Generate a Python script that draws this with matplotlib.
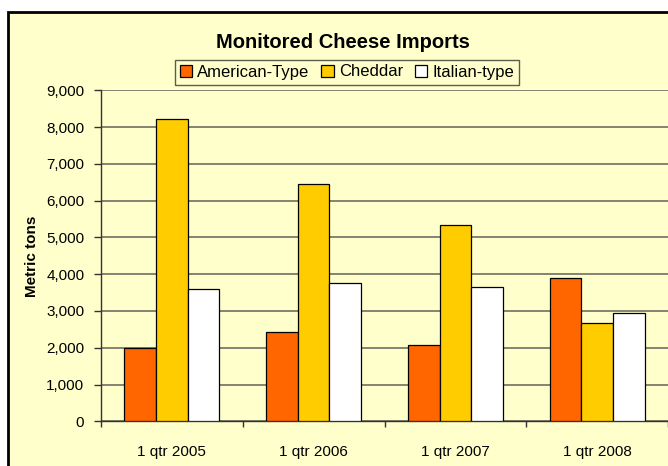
import matplotlib
matplotlib.use("Agg")
import matplotlib.pyplot as plt
import numpy as np
from matplotlib.patches import Rectangle
from matplotlib.ticker import FuncFormatter, FixedLocator

categories = ["1 qtr 2005", "1 qtr 2006", "1 qtr 2007", "1 qtr 2008"]
american = [1980, 2435, 2065, 3895]
cheddar = [8210, 6440, 5325, 2670]
italian = [3590, 3750, 3640, 2935]
series_names = ["American-Type", "Cheddar", "Italian-type"]
colors = ["#FF6600", "#FFCC00", "#FFFFFF"]

plt.rcParams['font.family'] = ['Liberation Sans', 'DejaVu Sans']

W, H = 668, 466
fig = plt.figure(figsize=(W / 100, H / 100), dpi=100)
fig.patch.set_facecolor("white")

bg = "#FFFFCC"
fig.patches.append(Rectangle((8 / W, -0.05), 1.2, 1 - 12 / H + 0.05,
                             transform=fig.transFigure, facecolor=bg,
                             edgecolor="black", linewidth=2, zorder=-10))

ax = fig.add_axes([101 / W, 1 - 421.3 / H, (668 - 101) / W, (421.3 - 90.3) / H])
ax.set_facecolor(bg)

x = np.arange(len(categories))
w = 0.2235
for i, (vals, c, name) in enumerate(zip([american, cheddar, italian], colors, series_names)):
    ax.bar(x + (i - 1) * w, vals, width=w, color=c, edgecolor="black",
           linewidth=0.9, label=name, zorder=3)

ax.set_xlim(-0.5, 3.5)
ax.set_ylim(0, 9000)
ax.set_yticks(np.arange(0, 9001, 1000))
ax.yaxis.set_major_formatter(FuncFormatter(lambda v, p: f"{int(v):,}"))
ax.grid(axis="y", color="#7a7a6a", linewidth=1.3, zorder=1)
ax.set_axisbelow(True)

ax.set_xticks(x)
ax.set_xticklabels(categories, fontsize=11)
ax.tick_params(axis="x", which="major", length=0, pad=17)
ax.xaxis.set_minor_locator(FixedLocator(np.arange(-0.5, 3.6, 1.0)))
ax.tick_params(axis="x", which="minor", length=4, width=1, color="#333333", direction="out")
ax.tick_params(axis="y", labelsize=11, length=5, width=1, color="#333333", pad=7)

for s in ["top", "right"]:
    ax.spines[s].set_visible(False)
ax.spines["left"].set_color("#333333")
ax.spines["bottom"].set_color("#333333")
ax.spines["left"].set_linewidth(1)
ax.spines["bottom"].set_linewidth(1)

fig.text(32 / W, 1 - 256 / H, "Metric tons", rotation=90, fontsize=11,
         fontweight="bold", ha="center", va="center")
fig.text(343 / W, 1 - 42 / H, "Monitored Cheese Imports", fontsize=14.5,
         fontweight="bold", ha="center", va="center")

leg = fig.legend(loc="center", bbox_to_anchor=(347 / W, 1 - 72 / H), ncol=3,
                 fontsize=12, frameon=True, fancybox=False, handlelength=0.75,
                 handleheight=0.75, handletextpad=0.3, columnspacing=0.7,
                 borderpad=0.3, borderaxespad=0)
leg.get_frame().set_facecolor(bg)
leg.get_frame().set_edgecolor("#333333")
leg.get_frame().set_linewidth(1)

fig.savefig("out.png", dpi=100, facecolor=fig.get_facecolor())
